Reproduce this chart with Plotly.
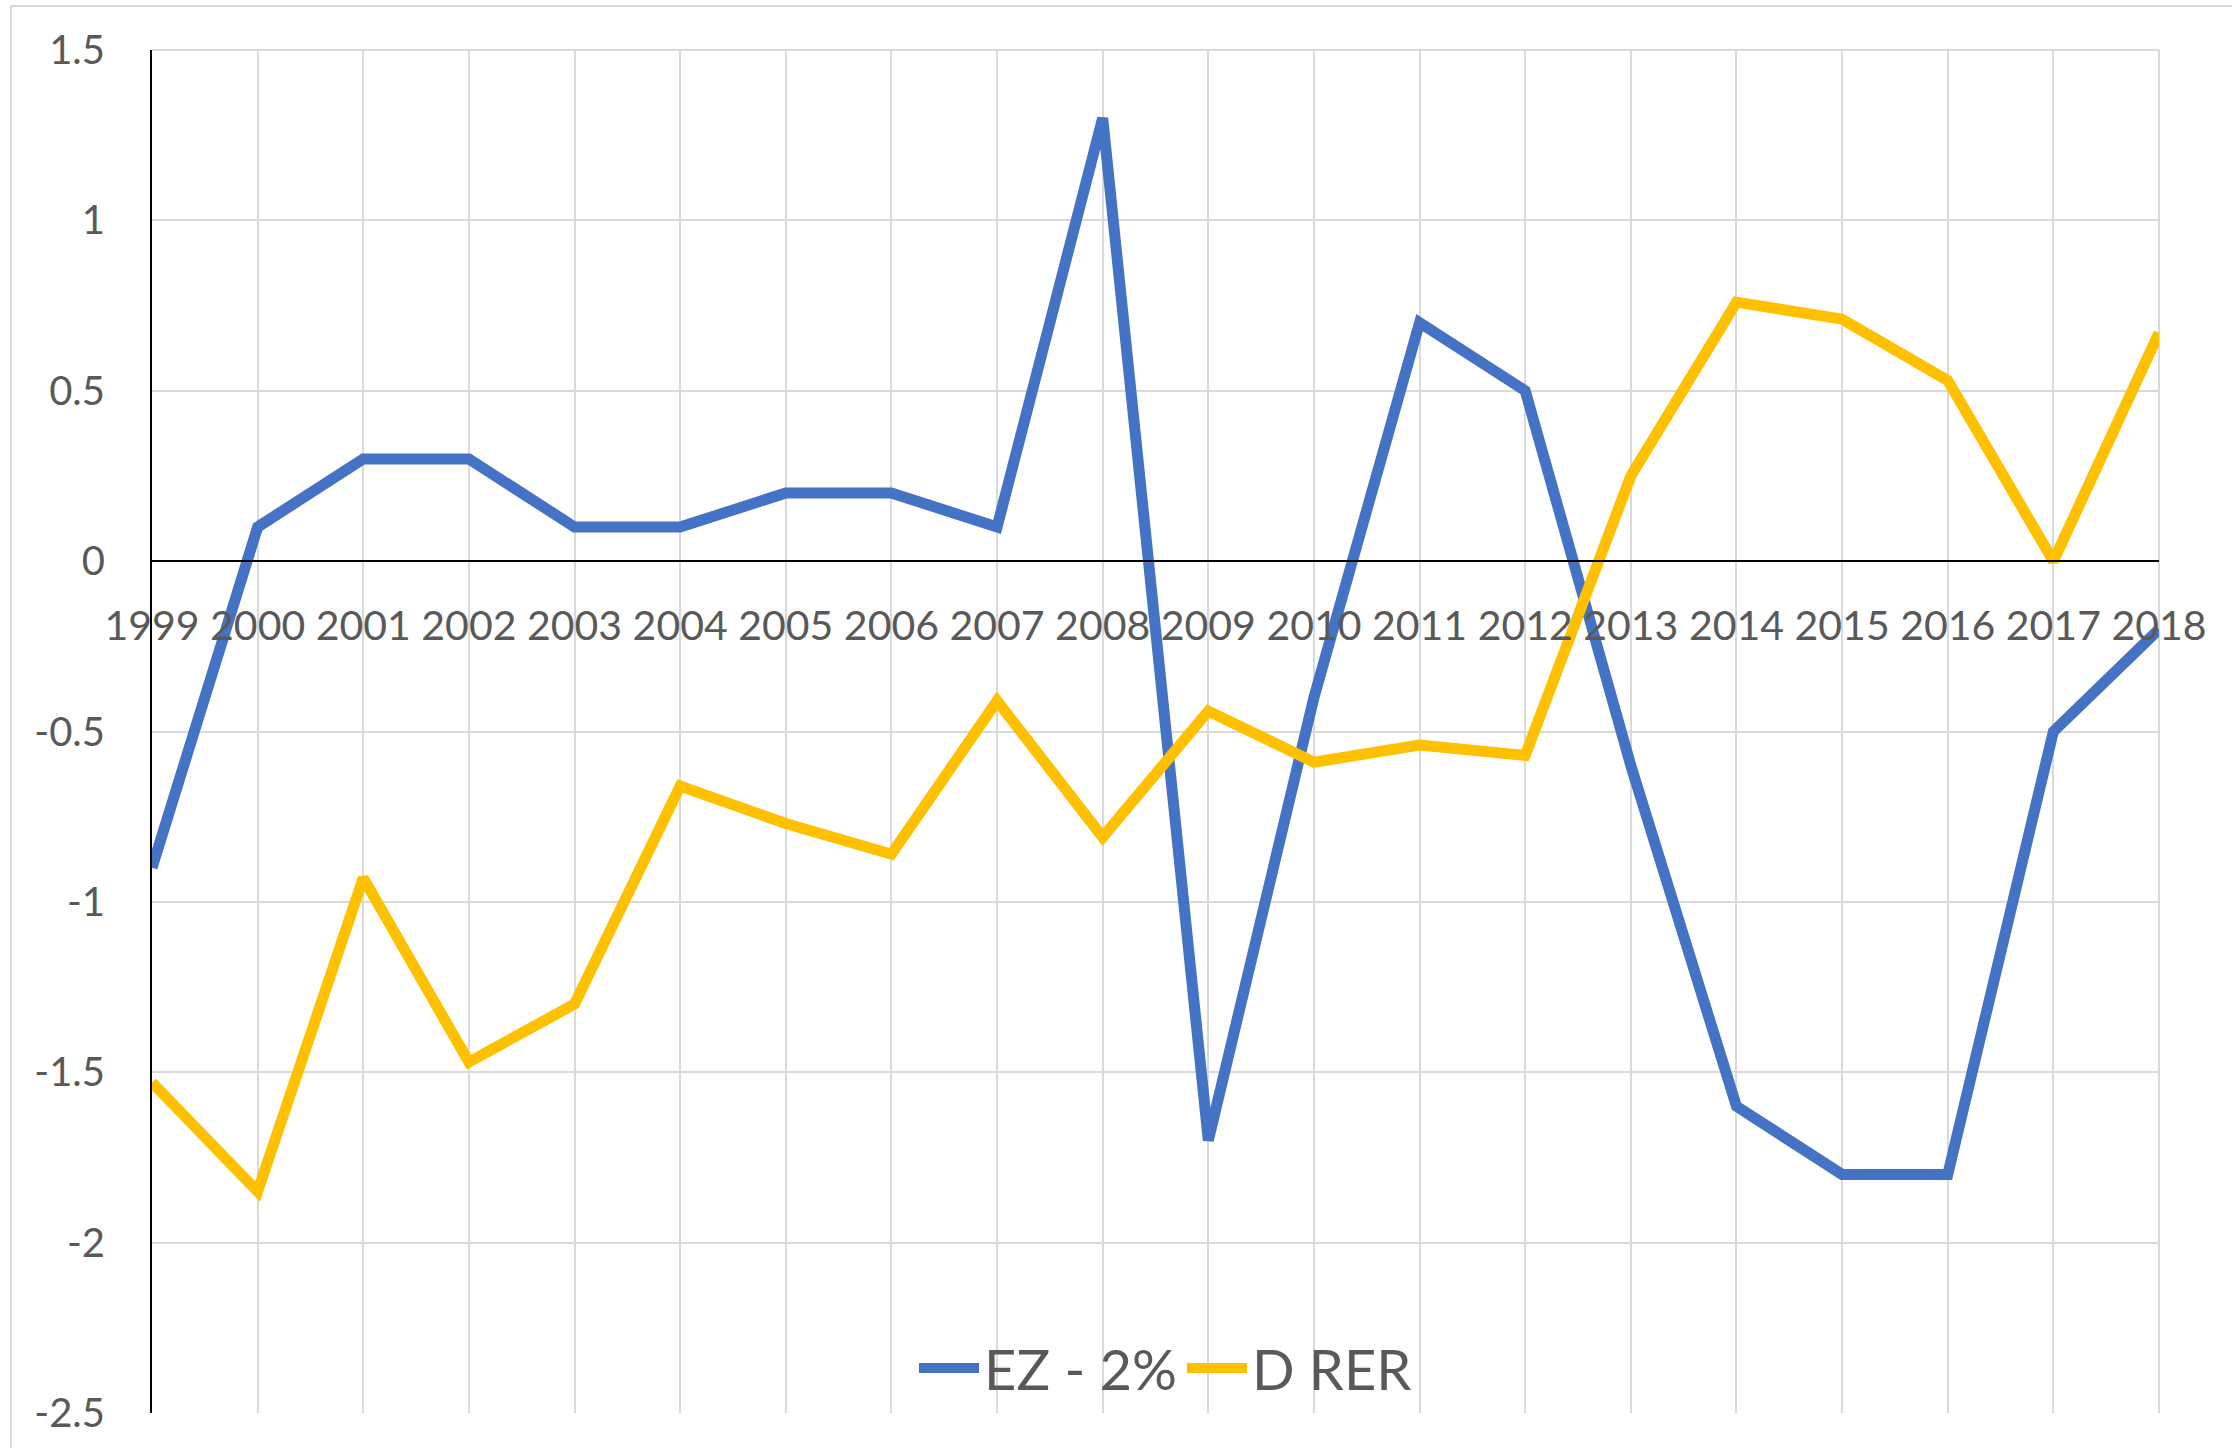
import plotly.graph_objects as go

years = list(range(1999, 2019))
ez_minus_2 = [-0.9, 0.1, 0.3, 0.3, 0.1, 0.1, 0.2, 0.2, 0.1, 1.3,
              -1.7, -0.4, 0.7, 0.5, -0.6, -1.6, -1.8, -1.8, -0.5, -0.2]
d_rer = [-1.53, -1.85, -0.93, -1.47, -1.30, -0.66, -0.77, -0.86, -0.41, -0.81,
         -0.44, -0.59, -0.54, -0.57, 0.25, 0.76, 0.71, 0.53, 0.0, 0.67]
y_ticks = [1.5, 1, 0.5, 0, -0.5, -1, -1.5, -2, -2.5]
y_tick_text = ["1.5", "1", "0.5", "0", "-0.5", "-1", "-1.5", "-2", "-2.5"]

FONT = "Lato"
GRID = "#d9d9d9"
TXT = "#595959"

fig = go.Figure()
fig.add_trace(go.Scatter(x=years, y=ez_minus_2, mode="lines", name="EZ - 2%",
                         line=dict(color="#4472C4", width=11)))
fig.add_trace(go.Scatter(x=years, y=d_rer, mode="lines", name="D RER",
                         line=dict(color="#FFC000", width=11)))

ymin, ymax = -2.5, 1.5
fig.update_layout(
    width=2232, height=1448,
    margin=dict(l=152, r=73, t=50, b=35),
    paper_bgcolor="white", plot_bgcolor="white",
    font=dict(family=FONT, color=TXT),
    showlegend=True,
    legend=dict(orientation="h", x=0.505, xanchor="center", y=0.033, yanchor="middle",
                bgcolor="rgba(0,0,0,0)", font=dict(size=56, color=TXT, family=FONT),
                itemwidth=60, tracegroupgap=0),
    xaxis=dict(range=[1999, 2018], tickmode="array", tickvals=years,
               ticktext=[str(y) for y in years],
               showgrid=True, gridcolor=GRID, gridwidth=2,
               anchor="free", position=(0 - ymin) / (ymax - ymin),
               showline=True, linecolor="black", linewidth=2,
               ticks="", ticklabelstandoff=29,
               tickfont=dict(size=41, color=TXT, family=FONT),
               zeroline=False),
    yaxis=dict(range=[ymin, ymax], tickmode="array", tickvals=y_ticks, ticktext=y_tick_text,
               showgrid=True, gridcolor=GRID, gridwidth=2,
               showline=True, linecolor="black", linewidth=2,
               zeroline=True, zerolinecolor="black", zerolinewidth=2,
               ticks="", ticklabelstandoff=37,
               tickfont=dict(size=40, color=TXT, family=FONT)),
)

# light outer chart frame (top and left edges visible)
fig.add_shape(type="rect", xref="paper", yref="paper",
              x0=(11 - 152) / 2007, x1=1.1, y0=-0.1, y1=(1413.5 - 6) / 1363.5,
              line=dict(color=GRID, width=2), fillcolor="rgba(0,0,0,0)", layer="below")
fig.add_shape(type="line", xref="paper", yref="paper", x0=1, x1=1, y0=0, y1=1,
              line=dict(color=GRID, width=2), layer="below")
fig.add_shape(type="line", xref="paper", yref="paper", x0=0, x1=1, y0=1, y1=1,
              line=dict(color=GRID, width=2), layer="below")

fig.write_html("out.html", config={"displayModeBar": False},
               post_script="document.body.style.margin='0';document.body.style.padding='0';")
